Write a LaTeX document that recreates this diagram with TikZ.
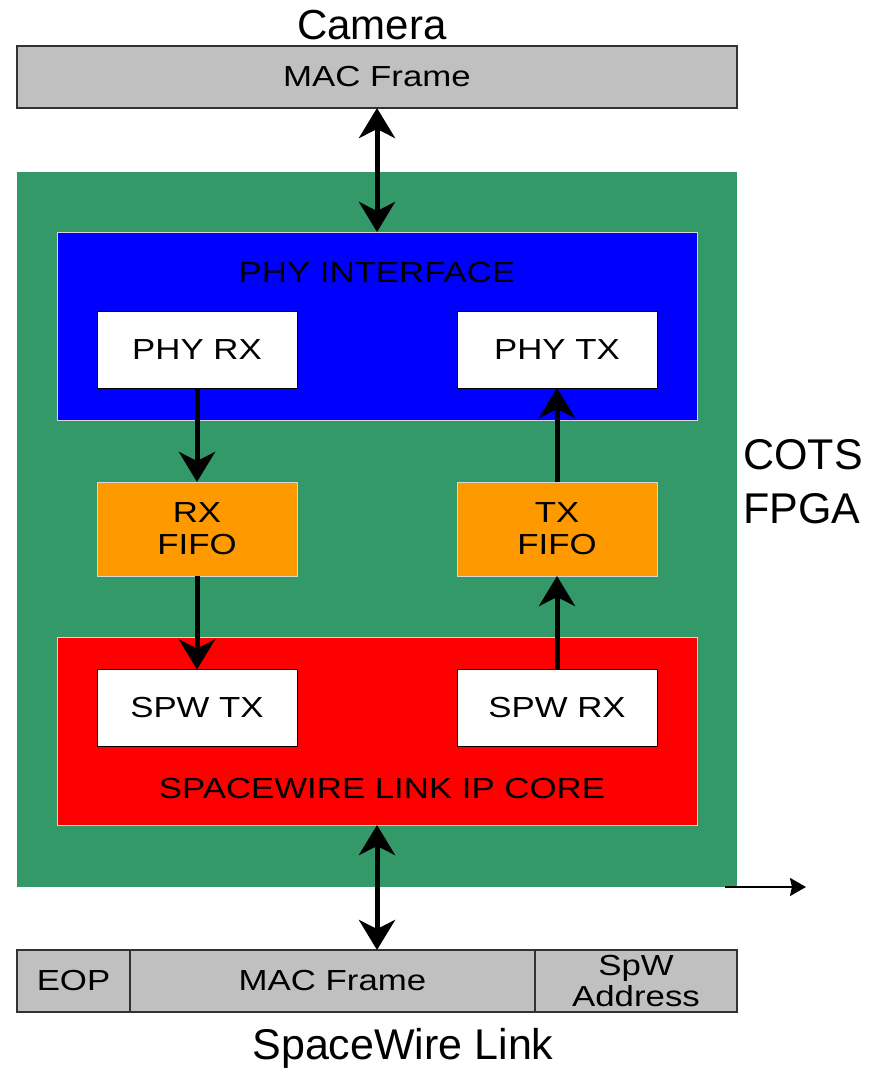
\documentclass[tikz,border=0pt]{standalone}
\usepackage{fontspec}
\setmainfont{Liberation Sans}
\newfontfamily\wide[FakeStretch=1.2]{Liberation Sans}
\usetikzlibrary{arrows.meta}
\definecolor{fpgagreen}{RGB}{52,153,105}
\definecolor{fifoorange}{RGB}{255,153,0}
\definecolor{framegray}{RGB}{192,192,192}
\definecolor{edgegray}{RGB}{215,215,215}
\tikzset{
  container/.style={draw=edgegray, line width=1pt, inner sep=0pt, outer sep=0pt},
  whitebox/.style={draw=black, fill=white, line width=1pt, minimum width=200pt, minimum height=77pt, inner sep=0pt, outer sep=0pt, font=\wide\fontsize{29}{33}\selectfont},
  fifobox/.style={draw=edgegray, fill=fifoorange, line width=1pt, minimum width=200pt, minimum height=94pt, inner sep=0pt, outer sep=0pt, align=center, font=\wide\fontsize{29}{32}\selectfont},
  framebox/.style={draw=black!80, fill=framegray, line width=1.2pt, minimum height=62pt, inner sep=0pt, outer sep=0pt, align=center, font=\wide\fontsize{29}{34}\selectfont},
  boxlabel/.style={inner sep=0pt, font=\wide\fontsize{29}{32}\selectfont},
  biglabel/.style={inner sep=0pt, align=left},
  bighead/.tip={Stealth[length=30pt,width=36pt,inset=9pt]},
  flow/.style={line width=5pt, -bighead},
  biflow/.style={line width=5pt, bighead-bighead},
  smallflow/.style={line width=2pt, -{Stealth[length=16pt,width=18pt,inset=2pt]}},
}
\begin{document}
\begin{tikzpicture}[x=1pt,y=-1pt]
\useasboundingbox (0,0) rectangle (880,1068);
% top
\node[biglabel, font=\fontsize{42}{46}\selectfont] (camera) at (372,25) {Camera};
\node[framebox, minimum width=720pt] (macTop) at (377,77) {MAC Frame};
% FPGA container
\node[container, draw=none, fill=fpgagreen, minimum width=720pt, minimum height=715pt] (fpga) at (377,529.5) {};
\node[container, fill=blue, minimum width=640pt, minimum height=188pt] (phy) at (377,326) {};
\node[boxlabel] (phylabel) at (377,273) {PHY INTERFACE};
\node[whitebox] (phyrx) at (197,349.5) {PHY RX};
\node[whitebox] (phytx) at (557,349.5) {PHY TX};
\node[fifobox] (rxfifo) at (197,529) {RX\\FIFO};
\node[fifobox] (txfifo) at (557,529) {TX\\FIFO};
\node[container, fill=red, minimum width=640pt, minimum height=188pt] (spw) at (377,731) {};
\node[boxlabel] (spwlabel) at (382,789) {SPACEWIRE LINK IP CORE};
\node[whitebox] (spwtx) at (197,708) {SPW TX};
\node[whitebox] (spwrx) at (557,708) {SPW RX};
\node[biglabel, font=\fontsize{43}{54}\selectfont] (cots) at (803,482) {COTS\\FPGA};
% bottom frame
\node[framebox, minimum width=113pt, anchor=west] (eop) at (17,981) {EOP};
\node[framebox, minimum width=405pt, anchor=west] (macBot) at (130,981) {MAC Frame};
\node[framebox, minimum width=202pt, anchor=west] (spwaddr) at (535,981) {SpW\\[-3pt]Address};
\node[biglabel, font=\fontsize{43}{48}\selectfont] (linklabel) at (403,1048) {SpaceWire Link};
% connectors
\draw[biflow] (macTop.south -| phy.north) -- (phy.north);
\draw[biflow] (spw.south) -- (spw.south |- macBot.north);
\draw[flow] (phyrx.south) -- (rxfifo.north);
\draw[flow] (rxfifo.south) -- (spwtx.north);
\draw[flow] (spwrx.north) -- (txfifo.south);
\draw[flow] (txfifo.north) -- (phytx.south);
\coordinate (outEnd) at (806,887);
\draw[smallflow] (fpga.south east) ++(-12,0) -- (outEnd);
\end{tikzpicture}
\end{document}
